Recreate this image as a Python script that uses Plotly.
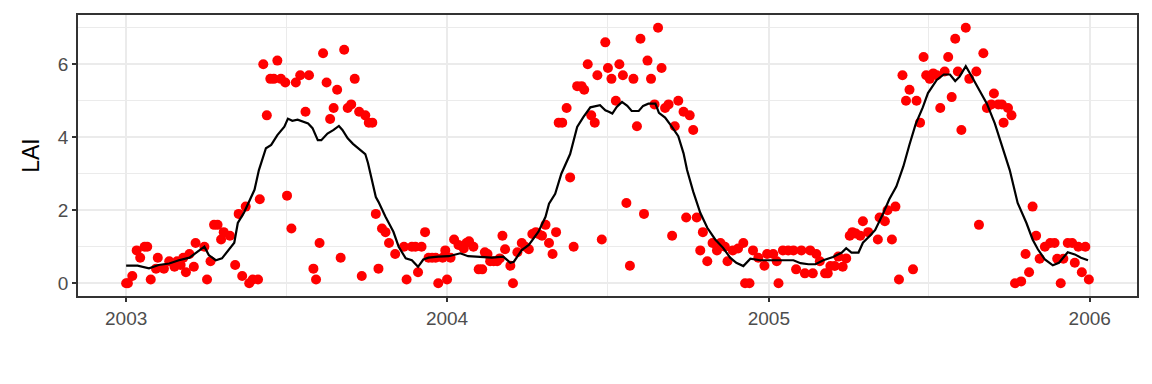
import pandas as pd
import plotly.graph_objects as go

START = "2003-01-01"

# Observed LAI (red points): day offset from 2003-01-01, LAI value
obs_day = [0, 2, 7, 12, 16, 21, 24, 28, 34, 36, 43, 49, 55, 58, 62, 65, 68, 72, 77, 79,
           89, 92, 96, 100, 104, 108, 111, 118, 124, 128, 132, 136, 140, 144, 150, 152, 156, 160, 164, 168,
           172, 176, 181, 183, 188, 193, 198, 204, 208, 213, 216, 220, 224, 228, 232, 236, 240, 244, 248, 252,
           256, 260, 265, 268, 272, 276, 280, 284, 287, 291, 295, 299, 306, 316, 319, 325, 329, 332, 336, 340,
           344, 348, 352, 355, 360, 363, 365,
           369, 373, 378, 384, 387, 390, 395, 401, 405, 408, 411, 414, 418, 422, 425, 428, 431, 437, 440, 445,
           450, 454, 458, 462, 466, 469, 473, 477, 481, 485, 489, 492, 496, 501, 505, 509, 513, 518, 521, 525,
           529, 533, 536, 541, 545, 548, 552, 557, 561, 565, 569, 573, 577, 581, 585, 589, 593, 597, 601, 605,
           609, 613, 617, 621, 624, 628, 634, 637, 641, 645, 649, 653, 656, 661, 667, 672, 676, 681, 684, 690,
           696, 702, 704, 709, 713, 719, 726, 729, 736,
           740, 742, 747, 753, 759, 762, 768, 772, 778, 781, 785, 789, 795, 798, 801, 806, 810, 815, 819, 823,
           826, 830, 835, 838, 844, 855, 857, 863, 866, 871, 875, 879, 883, 887, 891, 895, 899, 903, 907, 910,
           914, 918, 922, 926, 931, 935, 939, 943, 946, 950, 955, 959, 967, 970, 975, 979, 984, 987, 992, 996,
           998, 1003, 1007, 1011, 1018, 1023, 1027, 1031, 1035, 1039, 1045, 1051, 1056, 1059, 1063, 1066, 1071,
           1076, 1079, 1083, 1087, 1091, 1095]
obs_lai = [0.0, 0.0, 0.2, 0.9, 0.7, 1.0, 1.0, 0.1, 0.4, 0.7, 0.4, 0.6, 0.45, 0.6, 0.5, 0.7, 0.3, 0.8, 0.45, 1.1,
           1.0, 0.1, 0.6, 1.6, 1.6, 1.2, 1.4, 1.3, 0.5, 1.9, 0.2, 2.1, 0.0, 0.1, 0.1, 2.3, 6.0, 4.6, 5.6, 5.6,
           6.1, 5.6, 5.5, 2.4, 1.5, 5.5, 5.7, 4.7, 5.7, 0.4, 0.1, 1.1, 6.3, 5.5, 4.5, 4.8, 5.3, 0.7, 6.4, 4.8,
           4.9, 5.6, 4.7, 0.2, 4.6, 4.4, 4.4, 1.9, 0.4, 1.5, 1.4, 1.1, 0.8, 1.0, 0.1, 1.0, 1.0, 0.3, 1.0, 1.4,
           0.7, 0.7, 0.7, 0.0, 0.7, 0.9, 0.1,
           0.7, 1.2, 1.05, 0.95, 1.1, 1.15, 1.0, 0.38, 0.38, 0.85, 0.8, 0.6, 0.6, 0.6, 0.68, 1.3, 0.93, 0.48, 0.0, 0.85,
           1.1, 1.0, 0.93, 1.35, 1.4, 1.35, 1.3, 1.6, 1.1, 0.8, 1.4, 4.4, 4.4, 4.8, 2.9, 1.0, 5.4, 5.4, 5.3, 6.0,
           4.6, 4.4, 5.7, 1.2, 6.6, 5.9, 5.6, 5.0, 6.0, 5.7, 2.2, 0.48, 5.6, 4.3, 6.7, 1.9, 6.1, 5.6, 4.9, 7.0,
           5.9, 4.8, 4.9, 1.3, 4.3, 5.0, 4.7, 1.8, 4.6, 4.2, 1.8, 0.9, 1.4, 0.6, 1.1, 0.9, 1.1, 1.0, 0.6, 0.9,
           0.95, 1.1, 0.0, 0.0, 0.9, 0.7, 0.48, 0.8, 0.8,
           0.6, 0.0, 0.9, 0.9, 0.9, 0.38, 0.9, 0.27, 0.9, 0.27, 0.8, 0.6, 0.27, 0.27, 0.47, 0.47, 0.73, 0.45, 0.68, 1.3,
           1.4, 1.36, 1.3, 1.7, 1.4, 1.2, 1.8, 1.7, 2.0, 1.2, 2.1, 0.1, 5.7, 5.0, 5.3, 0.38, 5.0, 4.4, 6.2, 5.7,
           5.6, 5.75, 5.7, 4.8, 5.8, 6.2, 5.1, 6.7, 5.8, 4.2, 7.0, 5.6, 5.8, 1.6, 6.3, 4.8, 4.9, 5.2, 4.9, 4.9,
           4.4, 4.8, 4.6, 0.0, 0.05, 0.8, 0.3, 2.1, 1.3, 0.67, 1.0, 1.1, 1.1, 0.67, 0.0, 0.67, 1.1,
           1.1, 0.56, 1.0, 0.3, 1.0, 0.1]

# Smoothed LAI (black line)
fit_day = [0, 13, 26, 37, 49, 60, 72, 81, 89, 94, 102, 109, 117, 123, 127, 134, 146, 151, 159, 165,
           172, 180, 184, 189, 195, 201, 207, 212, 218, 222, 229, 236, 242, 246, 252, 258, 265, 272, 275, 278,
           284, 287, 295, 304, 310, 318, 325, 332, 338, 344, 355, 367, 380, 389, 401, 416, 429, 437, 441, 450,
           458, 469, 477, 481, 488, 495, 505, 513, 520, 528, 539, 545, 549, 553, 558, 564, 570, 575, 583, 588,
           594, 602, 606, 613, 620, 628, 634, 638, 645, 653, 661, 670, 679, 687, 694, 702, 710, 721, 736, 748,
           759, 767, 776, 784, 793, 804, 814, 819, 825, 833, 838, 846, 852, 861, 868, 876, 884, 891, 898, 906,
           912, 922, 930, 937, 943, 948, 955, 961, 970, 979, 988, 996, 1005, 1014, 1024, 1031, 1037, 1045, 1054,
           1061, 1071, 1079, 1086, 1094]
fit_lai = [0.48, 0.48, 0.41, 0.5, 0.54, 0.63, 0.7, 0.86, 1.0, 0.77, 0.63, 0.68, 0.91, 1.11, 1.65, 1.93, 2.56, 3.1, 3.7, 3.79,
           4.06, 4.29, 4.51, 4.45, 4.48, 4.42, 4.38, 4.25, 3.92, 3.92, 4.1, 4.2, 4.31, 4.2, 3.97, 3.82, 3.68, 3.54, 3.3, 3.0,
           2.36, 2.23, 1.82, 1.41, 1.0, 0.68, 0.63, 0.45, 0.65, 0.7, 0.73, 0.74, 0.82, 0.74, 0.73, 0.7, 0.73, 0.56, 0.59, 0.91,
           1.05, 1.41, 1.82, 2.18, 2.45, 3.0, 3.54, 4.28, 4.55, 4.82, 4.88, 4.74, 4.7, 4.65, 4.83, 4.97, 4.86, 4.72, 4.72, 4.86,
           4.92, 4.92, 4.67, 4.54, 4.31, 4.03, 3.56, 3.1, 2.51, 1.93, 1.52, 1.2, 0.97, 0.7, 0.56, 0.47, 0.67, 0.63, 0.63, 0.63,
           0.63, 0.55, 0.52, 0.52, 0.63, 0.72, 0.84, 0.96, 0.84, 0.84, 1.11, 1.3, 1.46, 1.91, 2.3, 2.65, 3.2, 3.8, 4.36, 4.81,
           5.21, 5.57, 5.72, 5.72, 5.54, 5.66, 5.95, 5.7, 5.33, 4.92, 4.38, 3.79, 3.1, 2.2, 1.65, 1.2, 0.93, 0.65, 0.49,
           0.56, 0.85, 0.79, 0.7, 0.63]

x_ticks = ["2003-01-01", "2004-01-01", "2005-01-01", "2006-01-01"]
x_tick_labels = ["2003", "2004", "2005", "2006"]
x_minor = ["2003-07-02", "2004-07-02", "2005-07-02"]
y_ticks = [0, 2, 4, 6]
y_minor = [1, 3, 5, 7]

t0 = pd.Timestamp(START)
obs_dates = t0 + pd.to_timedelta(obs_day, unit="D")
fit_dates = t0 + pd.to_timedelta(fit_day, unit="D")

# ggplot-like 5% expansion
dmin, dmax = min(obs_day + fit_day), max(obs_day + fit_day)
xpad = 0.05 * (dmax - dmin)
xr = [t0 + pd.Timedelta(days=dmin - xpad), t0 + pd.Timedelta(days=dmax + xpad)]
ymin, ymax = min(obs_lai + fit_lai), max(obs_lai + fit_lai)
ypad = 0.05 * (ymax - ymin)
yr = [ymin - ypad, ymax + ypad]

fig = go.Figure()
fig.add_trace(go.Scatter(x=obs_dates, y=obs_lai, mode="markers",
                         marker=dict(color="#FF0000", size=10, line=dict(width=0)),
                         showlegend=False))
fig.add_trace(go.Scatter(x=fit_dates, y=fit_lai, mode="lines",
                         line=dict(color="black", width=2.2),
                         showlegend=False))

grid = "#EBEBEB"
font = "Liberation Sans, Arial, Helvetica, sans-serif"
# the page body adds an 8px offset, so the figure is sized to fit inside the window
fig.update_layout(
    width=1144, height=376,
    margin=dict(l=70, r=15, t=7, b=88, autoexpand=False),
    paper_bgcolor="white", plot_bgcolor="white",
    font=dict(family=font, color="#4D4D4D", size=19),
    xaxis=dict(range=xr, tickvals=pd.to_datetime(x_ticks), ticktext=x_tick_labels,
               showgrid=True, gridcolor=grid, gridwidth=2,
               minor=dict(tickvals=pd.to_datetime(x_minor),
                          showgrid=True, gridcolor=grid, gridwidth=1, ticks=""),
               ticks="outside", ticklen=4, tickcolor="#333333", tickwidth=1.5,
               showline=True, linecolor="#333333", linewidth=1.5, mirror=True,
               zeroline=False, automargin=False, tickfont=dict(size=19, color="#4D4D4D")),
    yaxis=dict(range=yr, tickvals=y_ticks,
               showgrid=True, gridcolor=grid, gridwidth=2,
               minor=dict(tickvals=y_minor, showgrid=True, gridcolor=grid, gridwidth=1, ticks=""),
               ticks="outside", ticklen=4, tickcolor="#333333", tickwidth=1.5,
               showline=True, linecolor="#333333", linewidth=1.5, mirror=True,
               zeroline=False, automargin=False, tickfont=dict(size=19, color="#4D4D4D"),
               title=dict(text="LAI", font=dict(size=23, color="black"), standoff=12)),
)

fig.write_html("out.html")
